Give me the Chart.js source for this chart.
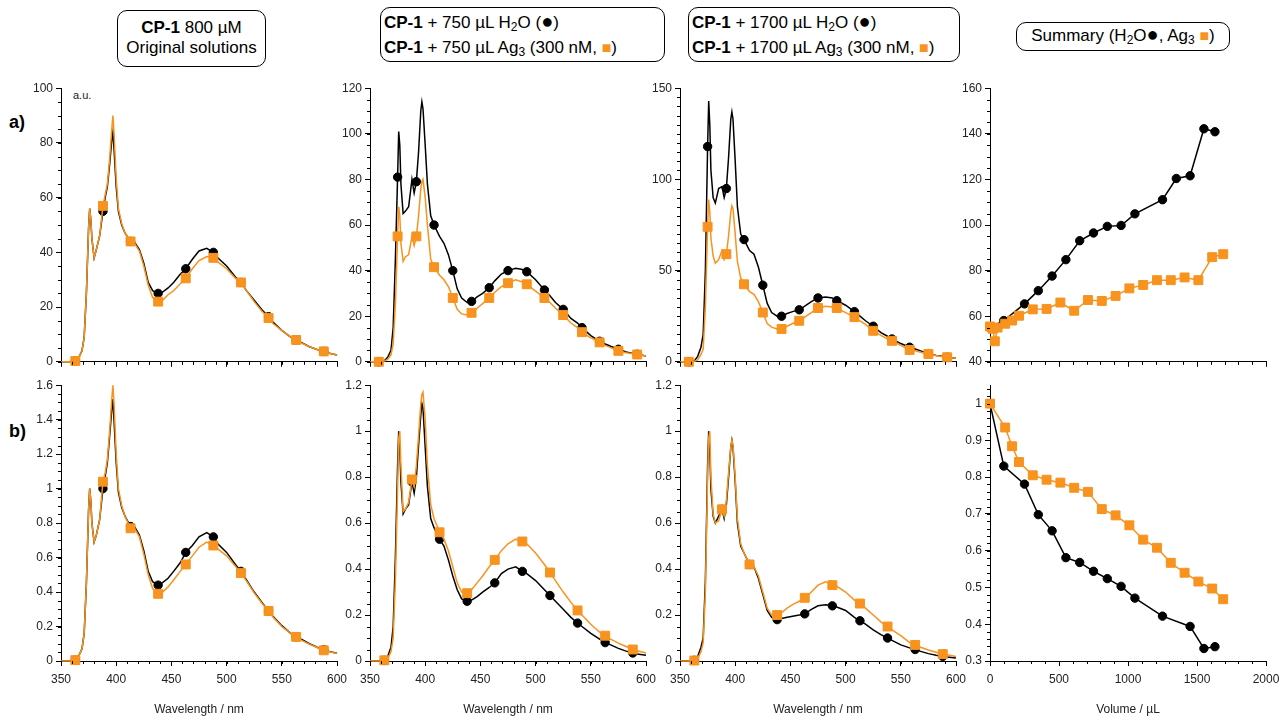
<!DOCTYPE html>
<html lang="en">
<head>
<meta charset="UTF-8">
<title>CP-1 emission spectra</title>
<script src="https://cdn.jsdelivr.net/npm/chart.js"></script>
<style>
  body { margin: 0; background: #fff; font-family: "Liberation Sans", Arial, sans-serif; }
  #page { position: relative; width: 1279px; height: 717px; overflow: hidden; }
  canvas { position: absolute; }
  .box { position: absolute; border: 1.5px solid #000; border-radius: 10px; font-size: 17px; color: #000; box-sizing: border-box; white-space: nowrap; }
  .box sub { font-size: 12px; vertical-align: -3px; line-height: 0; }
  .sq { color: #F7931E; font-size: 16px; line-height: 0; }
  .dot { font-size: 20px; line-height: 0; }
  .tag { position: absolute; font-weight: bold; font-size: 18px; }
  .au { position: absolute; font-size: 11px; color: #222; }
</style>
</head>
<body>
<div id="page">
  <div class="box" style="left:117px;top:10px;width:149px;height:57px;text-align:center;line-height:20px;padding-top:7px"><b>CP-1</b> 800 µM<br>Original solutions</div>
  <div class="box" style="left:380px;top:7px;width:285px;height:55px;line-height:25px;padding:2px 0 0 3px"><b>CP-1</b> + 750 µL H<sub>2</sub>O (<span class="dot">●</span>)<br><b>CP-1</b> + 750 µL Ag<sub>3</sub> (300 nM, <span class="sq">■</span>)</div>
  <div class="box" style="left:688px;top:7px;width:272px;height:55px;line-height:25px;padding:2px 0 0 3px"><b>CP-1</b> + 1700 µL H<sub>2</sub>O (<span class="dot">●</span>)<br><b>CP-1</b> + 1700 µL Ag<sub>3</sub> (300 nM, <span class="sq">■</span>)</div>
  <div class="box" style="left:1016px;top:22px;width:214px;height:29px;line-height:26px;text-align:center">Summary (H<sub>2</sub>O<span class="dot">●</span>, Ag<sub>3</sub> <span class="sq">■</span>)</div>

  <div class="tag" style="left:9px;top:112px">a)</div>
  <div class="tag" style="left:9px;top:421px">b)</div>
  <div class="au" style="left:73px;top:89px">a.u.</div>

  <canvas id="c1a" width="351" height="294" style="left:6px;top:78px"></canvas>
  <canvas id="c2a" width="351" height="294" style="left:315px;top:78px"></canvas>
  <canvas id="c3a" width="351" height="294" style="left:625px;top:78px"></canvas>
  <canvas id="c4a" width="351" height="294" style="left:935px;top:78px"></canvas>
  <canvas id="c1b" width="351" height="342" style="left:6px;top:375px"></canvas>
  <canvas id="c2b" width="351" height="342" style="left:315px;top:375px"></canvas>
  <canvas id="c3b" width="351" height="342" style="left:625px;top:375px"></canvas>
  <canvas id="c4b" width="351" height="342" style="left:935px;top:375px"></canvas>
</div>

<script>
// wavelength grid shared by all spectra (nm)
const WL = [350, 358, 363, 366, 369, 371, 373, 375, 376, 377,
            378, 380, 382, 385, 388, 390, 392, 394, 396, 397,
            398, 400, 402, 405, 408, 413, 417, 421, 425, 429,
            433, 438, 442, 447, 452, 458, 463, 469, 475, 482,
            488, 492, 500, 508, 513, 518, 525, 532, 538, 542,
            550, 558, 563, 568, 575, 582, 588, 592, 600];

// wavelengths that carry a marker
const MARK25 = [363, 388, 413, 438, 463, 488, 513, 538, 563, 588];
const MARK17 = [358, 375, 392, 408, 425, 442, 458, 475, 492, 508, 525, 542, 558, 575, 592];

// row a) intensity (a.u.)
const a1Black = [0, 0, 0.3, 1.5, 4, 9, 25, 49, 56, 52,
                 45, 38, 41, 46, 55, 60, 64, 72, 81, 84,
                 78, 64, 55, 50, 47, 44, 43.5, 41, 36, 29,
                 26, 25, 25.5, 27, 29, 32, 34, 37.5, 40.5, 41.5,
                 40, 38, 35, 31, 29, 26, 22.5, 19, 16.5, 14.5,
                 11.5, 9, 8, 7, 5.5, 4.5, 3.8, 3.2, 2.5];
const a1Orange = [0, 0, 0.3, 1.5, 4, 9, 25, 49, 56, 52,
                  45, 38, 41, 46, 57, 61, 65, 74, 85, 90,
                  84, 67, 56, 50.5, 47, 44, 43, 40.5, 35, 28,
                  23.5, 22, 22.5, 24.5, 26, 28.5, 30.5, 34, 37, 38.5,
                  38, 36.5, 34, 30.5, 29, 26, 22, 18.5, 16, 14,
                  11.5, 9, 8, 6.8, 5.5, 4.5, 3.8, 3.2, 2.5];
const a2Black = [0, 0, 0.5, 2, 5, 15, 45, 81, 101, 95,
                 78, 65, 66, 68, 80, 74, 79, 92, 110, 114,
                 111, 95, 78, 64, 60, 55, 52, 47, 40, 32,
                 28, 26, 26.5, 28.5, 30, 32.5, 35.5, 38.5, 40, 41,
                 40.5, 39.5, 36, 31.5, 29, 26, 23, 19, 17, 15,
                 11.5, 9, 7.8, 6.8, 5.5, 4.3, 3.6, 3.3, 2.5];
const a2Orange = [0, 0, 0.3, 1, 3, 8, 25, 55, 68, 64,
                  52, 44, 46, 47, 55, 51, 55, 64, 76, 79,
                  80, 72, 60, 45, 41.5, 38, 36, 33, 28, 23,
                  21, 20.5, 21.5, 23.5, 25.5, 28, 30.5, 33, 34.5, 36,
                  35, 34, 31, 28, 26, 23.5, 20.5, 17, 15, 13,
                  10.5, 8.5, 7.2, 6.2, 4.8, 4, 3.5, 3.2, 2.5];
const a3Black = [0, 0, 0.5, 3, 8, 15, 50, 118, 143, 130,
                 105, 90, 87, 95, 96, 90, 95, 112, 133, 137,
                 133, 110, 85, 70, 67, 61, 59, 52, 42, 32,
                 27, 25, 25, 26.5, 27.5, 28.5, 30.5, 33, 35, 35.5,
                 35, 33.5, 31, 27.5, 25, 22.5, 19.5, 16, 14, 12.5,
                 10, 8, 7, 6, 4.5, 3.5, 3, 2.5, 2];
const a3Orange = [0, 0, 0.3, 1, 4, 7, 30, 74, 89, 82,
                  68, 58, 54, 56, 61, 56, 59, 69, 82, 85.5,
                  84, 70, 55, 46, 42.5, 38.5, 37, 33, 27, 21,
                  19, 18, 18, 19.5, 21, 22.5, 24.5, 27, 29.5, 30.5,
                  30, 29.5, 27, 24.5, 22.5, 20.5, 17, 14.5, 12.5, 11.5,
                  9, 6.5, 6, 5.2, 4.3, 3.5, 2.8, 2.5, 2];

// row b) normalised intensity
const b1Black = [0, 0, 0.005, 0.03, 0.07, 0.16, 0.45, 0.88, 1.0, 0.93,
                 0.8, 0.69, 0.73, 0.82, 1.0, 1.07, 1.15, 1.3, 1.46, 1.52,
                 1.4, 1.15, 0.98, 0.89, 0.84, 0.78, 0.775, 0.73, 0.64, 0.52,
                 0.46, 0.44, 0.455, 0.48, 0.52, 0.57, 0.63, 0.67, 0.72, 0.745,
                 0.72, 0.68, 0.63, 0.56, 0.52, 0.47, 0.4, 0.34, 0.29, 0.26,
                 0.205, 0.16, 0.14, 0.125, 0.1, 0.08, 0.065, 0.057, 0.045];
const b1Orange = [0, 0, 0.005, 0.03, 0.07, 0.16, 0.45, 0.88, 1.0, 0.93,
                  0.8, 0.69, 0.73, 0.82, 1.04, 1.09, 1.17, 1.33, 1.52, 1.6,
                  1.5, 1.2, 1.0, 0.9, 0.84, 0.77, 0.765, 0.72, 0.62, 0.5,
                  0.42, 0.39, 0.4, 0.43, 0.47, 0.52, 0.56, 0.61, 0.66, 0.69,
                  0.67, 0.65, 0.61, 0.55, 0.51, 0.465, 0.395, 0.335, 0.29, 0.255,
                  0.2, 0.16, 0.14, 0.12, 0.098, 0.078, 0.062, 0.055, 0.043];
const b2Black = [0, 0, 0.003, 0.02, 0.06, 0.15, 0.45, 0.85, 1.0, 0.93,
                 0.78, 0.64, 0.66, 0.68, 0.78, 0.73, 0.8, 0.94, 1.07, 1.12,
                 1.1, 0.93, 0.76, 0.62, 0.58, 0.53, 0.5, 0.44, 0.37, 0.31,
                 0.27, 0.26, 0.265, 0.28, 0.3, 0.32, 0.34, 0.38, 0.4, 0.41,
                 0.39, 0.38, 0.35, 0.31, 0.285, 0.26, 0.225, 0.19, 0.165, 0.15,
                 0.12, 0.095, 0.08, 0.07, 0.055, 0.043, 0.035, 0.03, 0.025];
const b2Orange = [0, 0, 0.003, 0.01, 0.04, 0.1, 0.35, 0.75, 0.97, 1.0,
                  0.85, 0.65, 0.66, 0.69, 0.79, 0.76, 0.85, 0.98, 1.12, 1.16,
                  1.17, 1.05, 0.85, 0.68, 0.62, 0.56, 0.53, 0.48, 0.41, 0.34,
                  0.3, 0.295, 0.31, 0.34, 0.37, 0.41, 0.44, 0.48, 0.51, 0.53,
                  0.52, 0.51, 0.47, 0.42, 0.385, 0.35, 0.3, 0.255, 0.22, 0.2,
                  0.16, 0.125, 0.11, 0.095, 0.078, 0.063, 0.05, 0.045, 0.035];
const b3Black = [0, 0, 0.003, 0.02, 0.06, 0.1, 0.35, 0.85, 1.0, 0.92,
                 0.75, 0.63, 0.6, 0.63, 0.66, 0.62, 0.68, 0.8, 0.93, 0.96,
                 0.93, 0.78, 0.6, 0.5, 0.47, 0.42, 0.41, 0.36, 0.29, 0.22,
                 0.19, 0.18, 0.185, 0.19, 0.195, 0.2, 0.205, 0.225, 0.24, 0.245,
                 0.24, 0.235, 0.22, 0.19, 0.175, 0.16, 0.135, 0.115, 0.1, 0.09,
                 0.07, 0.057, 0.05, 0.042, 0.032, 0.025, 0.02, 0.017, 0.013];
const b3Orange = [0, 0, 0.002, 0.01, 0.04, 0.08, 0.3, 0.8, 0.97, 1.0,
                  0.8, 0.64, 0.6, 0.61, 0.66, 0.63, 0.7, 0.82, 0.93, 0.96,
                  0.94, 0.8, 0.62, 0.51, 0.47, 0.42, 0.41, 0.37, 0.3, 0.23,
                  0.2, 0.2, 0.21, 0.23, 0.245, 0.26, 0.275, 0.3, 0.33, 0.345,
                  0.33, 0.325, 0.3, 0.265, 0.25, 0.23, 0.2, 0.17, 0.15, 0.135,
                  0.11, 0.08, 0.07, 0.06, 0.048, 0.038, 0.03, 0.027, 0.02];

// summary (volume added, µL)
const volH2Oa = [0, 100, 250, 350, 450, 550, 650, 750, 850, 950, 1050, 1250, 1350, 1450, 1550, 1630];
const sumH2Oa = [55, 58.1, 65.4, 71.2, 77.6, 84.8, 93.1, 96.5, 99.4, 99.8, 104.9, 111.1, 120.4, 121.6, 142.2, 140.9];
const volAgA = [0, 20, 35, 55, 110, 160, 210, 310, 410, 510, 610, 710, 810, 910, 1010, 1110, 1210, 1310, 1410, 1510, 1610, 1690];
const sumAgA = [55.5, 54.5, 49, 55, 56.7, 58.1, 60.2, 63, 63.2, 66, 62.4, 67.1, 66.7, 68.9, 72.2, 73.7, 75.8, 75.8, 77, 75.8, 85.9, 87.2];
const volH2Ob = [0, 100, 250, 350, 450, 550, 650, 750, 850, 950, 1050, 1250, 1450, 1550, 1630];
const sumH2Ob = [1.0, 0.83, 0.781, 0.698, 0.654, 0.581, 0.568, 0.544, 0.524, 0.503, 0.471, 0.422, 0.394, 0.334, 0.339];
const volAgB = [0, 110, 160, 210, 310, 410, 510, 610, 710, 810, 910, 1010, 1110, 1210, 1310, 1410, 1510, 1610, 1690];
const sumAgB = [1.0, 0.935, 0.884, 0.841, 0.805, 0.793, 0.785, 0.771, 0.76, 0.713, 0.696, 0.669, 0.63, 0.608, 0.567, 0.54, 0.516, 0.497, 0.468];

// tick labels
const xTicksWL = [350, 400, 450, 500, 550, 600];
const xTicksVol = [0, 500, 1000, 1500, 2000];
const yTicksA1 = [0, 20, 40, 60, 80, 100];
const yTicksA2 = [0, 20, 40, 60, 80, 100, 120];
const yTicksA3 = [0, 50, 100, 150];
const yTicksA4 = [40, 60, 80, 100, 120, 140, 160];
const yTicksB1 = [0, 0.2, 0.4, 0.6, 0.8, 1, 1.2, 1.4, 1.6];
const yTicksB23 = [0, 0.2, 0.4, 0.6, 0.8, 1, 1.2];
const yTicksB4 = [0.3, 0.4, 0.5, 0.6, 0.7, 0.8, 0.9, 1];

const BLACK = '#000000';
const ORANGE = '#F7931E';

Chart.defaults.font.family = '"Liberation Sans", Arial, sans-serif';
Chart.defaults.font.size = 12;
Chart.defaults.color = '#222';

// short unlabeled ticks between the major ones
const minorTicks = {
    id: 'minorTicks',
    afterDraw(chart, args, opts) {
        const ctx = chart.ctx, xs = chart.scales.x, ys = chart.scales.y;
        ctx.save();
        ctx.strokeStyle = '#000';
        ctx.lineWidth = 1;
        ctx.beginPath();
        const nx = Math.floor((xs.max - xs.min) / opts.x + 1e-6);
        for (let i = 0; i <= nx; i++) {
            const px = Math.round(xs.getPixelForValue(xs.min + i * opts.x)) + 0.5;
            ctx.moveTo(px, xs.top);
            ctx.lineTo(px, xs.top + 3);
        }
        const ny = Math.floor((ys.max - ys.min) / opts.y + 1e-6);
        for (let i = 0; i <= ny; i++) {
            const py = Math.round(ys.getPixelForValue(ys.min + i * opts.y)) + 0.5;
            ctx.moveTo(ys.right, py);
            ctx.lineTo(ys.right - 3, py);
        }
        ctx.stroke();
        ctx.restore();
    }
};

function pts(xs, ys) {
    return xs.map((x, i) => ({ x: x, y: ys[i] }));
}

function series(xs, ys, color, marks) {
    const isAg = color === ORANGE;
    return {
        data: pts(xs, ys),
        borderColor: color,
        backgroundColor: color,
        borderWidth: 1.5,
        tension: 0,
        clip: false,
        pointStyle: isAg ? 'rect' : 'circle',
        pointRadius: ctx => (!marks || marks.includes(ctx.raw.x)) ? (isAg ? 6.3 : 4.2) : 0,
        pointBorderWidth: 1
    };
}

function panel(id, datasets, c) {
    new Chart(document.getElementById(id), {
        type: 'line',
        data: { datasets: datasets },
        options: {
            responsive: false,
            animation: false,
            events: [],
            layout: { padding: { top: 10, right: 20, left: 0, bottom: 0 } },
            plugins: {
                legend: { display: false },
                tooltip: { enabled: false },
                minorTicks: { x: c.xMinor, y: c.yMinor }
            },
            scales: {
                x: {
                    type: 'linear',
                    min: c.xTicks[0],
                    max: c.xTicks[c.xTicks.length - 1],
                    border: { color: '#000', width: 1 },
                    grid: { drawOnChartArea: false, color: '#000', tickLength: 5 },
                    afterBuildTicks: s => { s.ticks = c.xTicks.map(v => ({ value: v })); },
                    ticks: { display: c.bottom, padding: 6, callback: v => String(v) },
                    title: { display: c.bottom, text: c.xTitle, padding: 0 },
                    afterFit: s => { s.height = c.bottom ? 56 : 8; }
                },
                y: {
                    type: 'linear',
                    min: c.yTicks[0],
                    max: c.yMax !== undefined ? c.yMax : c.yTicks[c.yTicks.length - 1],
                    border: { color: '#000', width: 1 },
                    grid: { drawOnChartArea: false, color: '#000', tickLength: 5 },
                    afterBuildTicks: s => { s.ticks = c.yTicks.map(v => ({ value: v })); },
                    ticks: { padding: 3, callback: v => String(v) },
                    afterFit: s => { s.width = 55; }
                }
            }
        },
        plugins: [minorTicks]
    });
}

const wlTop = { xTicks: xTicksWL, xMinor: 10, bottom: false };
const wlBottom = { xTicks: xTicksWL, xMinor: 10, bottom: true, xTitle: 'Wavelength / nm' };

panel('c1a', [series(WL, a1Orange, ORANGE, MARK25), series(WL, a1Black, BLACK, MARK25)],
      Object.assign({ yTicks: yTicksA1, yMinor: 5 }, wlTop));
panel('c2a', [series(WL, a2Orange, ORANGE, MARK17), series(WL, a2Black, BLACK, MARK17)],
      Object.assign({ yTicks: yTicksA2, yMinor: 5 }, wlTop));
panel('c3a', [series(WL, a3Orange, ORANGE, MARK17), series(WL, a3Black, BLACK, MARK17)],
      Object.assign({ yTicks: yTicksA3, yMinor: 5 }, wlTop));
panel('c4a', [series(volAgA, sumAgA, ORANGE), series(volH2Oa, sumH2Oa, BLACK)],
      { xTicks: xTicksVol, xMinor: 100, bottom: false, yTicks: yTicksA4, yMinor: 5 });

panel('c1b', [series(WL, b1Orange, ORANGE, MARK25), series(WL, b1Black, BLACK, MARK25)],
      Object.assign({ yTicks: yTicksB1, yMinor: 0.05 }, wlBottom));
panel('c2b', [series(WL, b2Orange, ORANGE, MARK25), series(WL, b2Black, BLACK, MARK25)],
      Object.assign({ yTicks: yTicksB23, yMinor: 0.05 }, wlBottom));
panel('c3b', [series(WL, b3Orange, ORANGE, MARK25), series(WL, b3Black, BLACK, MARK25)],
      Object.assign({ yTicks: yTicksB23, yMinor: 0.05 }, wlBottom));
panel('c4b', [series(volAgB, sumAgB, ORANGE), series(volH2Ob, sumH2Ob, BLACK)],
      { xTicks: xTicksVol, xMinor: 100, bottom: true, xTitle: 'Volume / µL', yTicks: yTicksB4, yMax: 1.05, yMinor: 0.02 });
</script>
</body>
</html>
